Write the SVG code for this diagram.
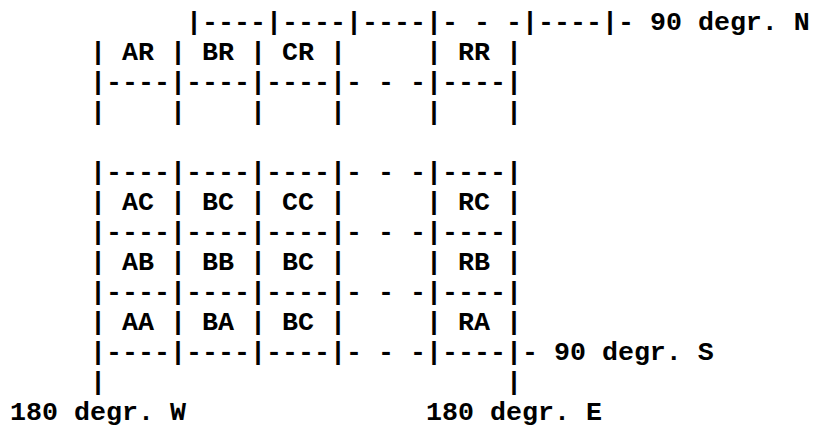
<svg xmlns="http://www.w3.org/2000/svg" width="825" height="428" viewBox="0 0 825 428">
<style>
text{font-family:"Liberation Mono","DejaVu Sans Mono",monospace;font-weight:bold;font-size:26.667px;fill:#000;white-space:pre}
</style>
<defs>
<text id="bar">|</text>
</defs>
<rect x="0" y="0" width="825" height="428" fill="#fff"/>
<g id="grid" xml:space="preserve">
<text x="186" y="29.5">|----|----|----|- - -|----|- 90 degr. N</text>
<text x="90" y="89.5">|----|----|----|- - -|----|</text>
<text x="90" y="179.5">|----|----|----|- - -|----|</text>
<text x="90" y="239.5">|----|----|----|- - -|----|</text>
<text x="90" y="299.5">|----|----|----|- - -|----|</text>
<text x="90" y="359.5">|----|----|----|- - -|----|- 90 degr. S</text>
</g>
<g id="bars">
<use href="#bar" x="90" y="59.5"/><use href="#bar" x="170" y="59.5"/><use href="#bar" x="250" y="59.5"/><use href="#bar" x="330" y="59.5"/><use href="#bar" x="426" y="59.5"/><use href="#bar" x="506" y="59.5"/>
<use href="#bar" x="90" y="119.5"/><use href="#bar" x="170" y="119.5"/><use href="#bar" x="250" y="119.5"/><use href="#bar" x="330" y="119.5"/><use href="#bar" x="426" y="119.5"/><use href="#bar" x="506" y="119.5"/>
<use href="#bar" x="90" y="209.5"/><use href="#bar" x="170" y="209.5"/><use href="#bar" x="250" y="209.5"/><use href="#bar" x="330" y="209.5"/><use href="#bar" x="426" y="209.5"/><use href="#bar" x="506" y="209.5"/>
<use href="#bar" x="90" y="269.5"/><use href="#bar" x="170" y="269.5"/><use href="#bar" x="250" y="269.5"/><use href="#bar" x="330" y="269.5"/><use href="#bar" x="426" y="269.5"/><use href="#bar" x="506" y="269.5"/>
<use href="#bar" x="90" y="329.5"/><use href="#bar" x="170" y="329.5"/><use href="#bar" x="250" y="329.5"/><use href="#bar" x="330" y="329.5"/><use href="#bar" x="426" y="329.5"/><use href="#bar" x="506" y="329.5"/>
<use href="#bar" x="90" y="389.5"/><use href="#bar" x="506" y="389.5"/>
</g>
<g id="axes">
<text x="10" y="419.5">180 degr. W</text>
<text x="426" y="419.5">180 degr. E</text>
</g>
<g id="cells">
<g id="AR"><text x="122" y="59.5">AR</text></g>
<g id="BR"><text x="202" y="59.5">BR</text></g>
<g id="CR"><text x="282" y="59.5">CR</text></g>
<g id="RR"><text x="458" y="59.5">RR</text></g>
<g id="AC"><text x="122" y="209.5">AC</text></g>
<g id="BC1"><text x="202" y="209.5">BC</text></g>
<g id="CC"><text x="282" y="209.5">CC</text></g>
<g id="RC"><text x="458" y="209.5">RC</text></g>
<g id="AB"><text x="122" y="269.5">AB</text></g>
<g id="BB"><text x="202" y="269.5">BB</text></g>
<g id="BC2"><text x="282" y="269.5">BC</text></g>
<g id="RB"><text x="458" y="269.5">RB</text></g>
<g id="AA"><text x="122" y="329.5">AA</text></g>
<g id="BA"><text x="202" y="329.5">BA</text></g>
<g id="BC3"><text x="282" y="329.5">BC</text></g>
<g id="RA"><text x="458" y="329.5">RA</text></g>
</g>
</svg>
